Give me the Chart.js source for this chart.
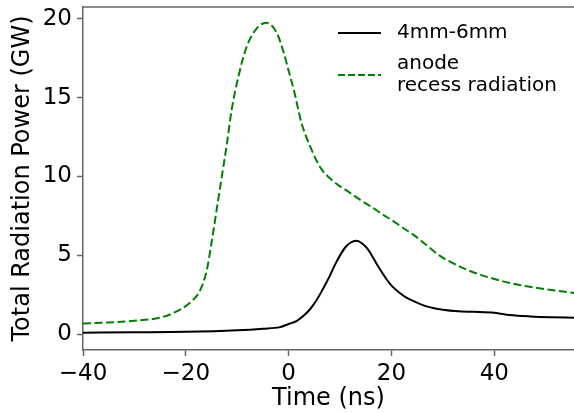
<!DOCTYPE html>
<html>
<head>
<meta charset="utf-8">
<script src="https://cdn.jsdelivr.net/npm/chart.js@4"></script>
<style>
  html, body { margin: 0; padding: 0; background: #fff; }
  #wrap { width: 574px; height: 413px; }
</style>
</head>
<body>
<div id="wrap"><canvas id="chart" width="574" height="413"></canvas></div>
<script>
// time axis (ns) and power values (GW)
const blackTimes = [-40, -30, -20, -10, -5, -1.7, 0, 1.6, 3, 4.2, 5.5, 6.8, 8, 9, 10, 11, 12, 13.2, 14.3, 15.5, 16.6, 17.8, 19, 20.1, 21.5, 23, 25, 27, 30, 33, 36, 40, 43, 47, 51, 55.5];
const blackPower = [0.1, 0.12, 0.15, 0.25, 0.35, 0.45, 0.65, 0.85, 1.2, 1.6, 2.2, 2.95, 3.7, 4.4, 5.0, 5.5, 5.8, 5.92, 5.75, 5.35, 4.75, 4.1, 3.5, 3.05, 2.65, 2.3, 2.0, 1.75, 1.55, 1.45, 1.42, 1.36, 1.22, 1.13, 1.08, 1.05];

const greenTimes = [-40, -35, -30, -25, -22.4, -19.2, -17.2, -15.9, -15, -14, -13, -12, -11.1, -9.8, -8.2, -6.2, -4.3, -2.3, -1, 0, 1, 2.5, 4.2, 6.1, 8.7, 12, 14, 16, 18, 20, 22, 24.3, 27, 29.5, 32, 34.6, 37.5, 40.5, 43, 46.3, 50, 53, 55.5];
const greenPower = [0.68, 0.75, 0.85, 1.05, 1.35, 2.0, 2.8, 4.1, 5.8, 7.9, 10.0, 12.1, 14.2, 16.3, 18.2, 19.4, 19.75, 19.1, 17.9, 16.7, 15.5, 13.4, 11.9, 10.6, 9.7, 8.95, 8.5, 8.1, 7.65, 7.25, 6.8, 6.3, 5.6, 4.95, 4.5, 4.1, 3.75, 3.46, 3.25, 3.04, 2.85, 2.72, 2.62];

const xTicks = [-40, -20, 0, 20, 40];
const yTicks = [0, 5, 10, 15, 20];
const seriesNames = ["4mm-6mm", ["anode", "recess radiation"]];

const FONT = "'DejaVu Sans', sans-serif";
const SPINE = "#666";

function pts(xs, ys) {
  return xs.map((x, i) => ({ x: x, y: ys[i] }));
}

// top spine + matplotlib style legend
const extras = {
  id: "extras",
  afterDraw(chart) {
    const ctx = chart.ctx;
    const a = chart.chartArea;
    ctx.save();
    ctx.strokeStyle = SPINE;
    ctx.lineWidth = 1.5;
    ctx.beginPath();
    ctx.moveTo(a.left, a.top);
    ctx.lineTo(a.right, a.top);
    ctx.stroke();

    ctx.font = "20px " + FONT;
    ctx.fillStyle = "#000";
    ctx.textBaseline = "middle";
    const rows = [
      { y: 33, color: "#000", dash: [], lines: [seriesNames[0]] },
      { y: 75, color: "#008000", dash: [7, 3], lines: seriesNames[1] }
    ];
    rows.forEach(r => {
      ctx.strokeStyle = r.color;
      ctx.lineWidth = 2;
      ctx.setLineDash(r.dash);
      ctx.beginPath();
      ctx.moveTo(338, r.y);
      ctx.lineTo(381, r.y);
      ctx.stroke();
      ctx.setLineDash([]);
      const lh = 22;
      const y0 = r.y - (r.lines.length - 1) * lh / 2;
      r.lines.forEach((t, i) => ctx.fillText(t, 397, y0 + i * lh));
    });
    ctx.restore();
  }
};

new Chart(document.getElementById("chart"), {
  type: "line",
  data: {
    datasets: [
      {
        label: "4mm-6mm",
        data: pts(blackTimes, blackPower),
        borderColor: "#000",
        borderWidth: 2,
        pointRadius: 0,
        cubicInterpolationMode: "monotone",
        fill: false
      },
      {
        label: "anode recess radiation",
        data: pts(greenTimes, greenPower),
        borderColor: "#008000",
        borderWidth: 2,
        borderDash: [8, 3.5],
        pointRadius: 0,
        cubicInterpolationMode: "monotone",
        fill: false
      }
    ]
  },
  options: {
    responsive: false,
    animation: false,
    layout: { padding: { top: 7, left: 0, right: 0, bottom: 0 } },
    plugins: {
      legend: { display: false },
      tooltip: { enabled: false }
    },
    scales: {
      x: {
        type: "linear",
        min: -40,
        max: 55.5,
        afterBuildTicks: s => { s.ticks = xTicks.map(v => ({ value: v })); },
        afterFit: s => { s.height = 63; s.paddingLeft = 0; s.paddingRight = 0; },
        grid: { drawOnChartArea: false, color: SPINE, tickLength: 6, tickWidth: 1.5 },
        border: { color: SPINE, width: 1.5 },
        ticks: {
          color: "#000",
          padding: 4,
          maxRotation: 0,
          font: { family: FONT, size: 23 },
          callback: v => String(v).replace("-", "\u2212")
        },
        title: {
          display: true,
          text: "Time (ns)",
          color: "#000",
          padding: { top: 0, bottom: 0 },
          font: { family: FONT, size: 24 }
        }
      },
      y: {
        type: "linear",
        min: -1,
        max: 20.75,
        afterBuildTicks: s => { s.ticks = yTicks.map(v => ({ value: v })); },
        afterFit: s => { s.width = 83; s.paddingTop = 0; s.paddingBottom = 0; },
        grid: { drawOnChartArea: false, color: SPINE, tickLength: 6, tickWidth: 1.5 },
        border: { color: SPINE, width: 1.5 },
        ticks: {
          color: "#000",
          padding: 5,
          font: { family: FONT, size: 23 }
        },
        title: {
          display: true,
          text: "Total Radiation Power (GW)",
          color: "#000",
          padding: { top: 8, bottom: 0 },
          font: { family: FONT, size: 24 }
        }
      }
    }
  },
  plugins: [extras]
});
</script>
</body>
</html>
